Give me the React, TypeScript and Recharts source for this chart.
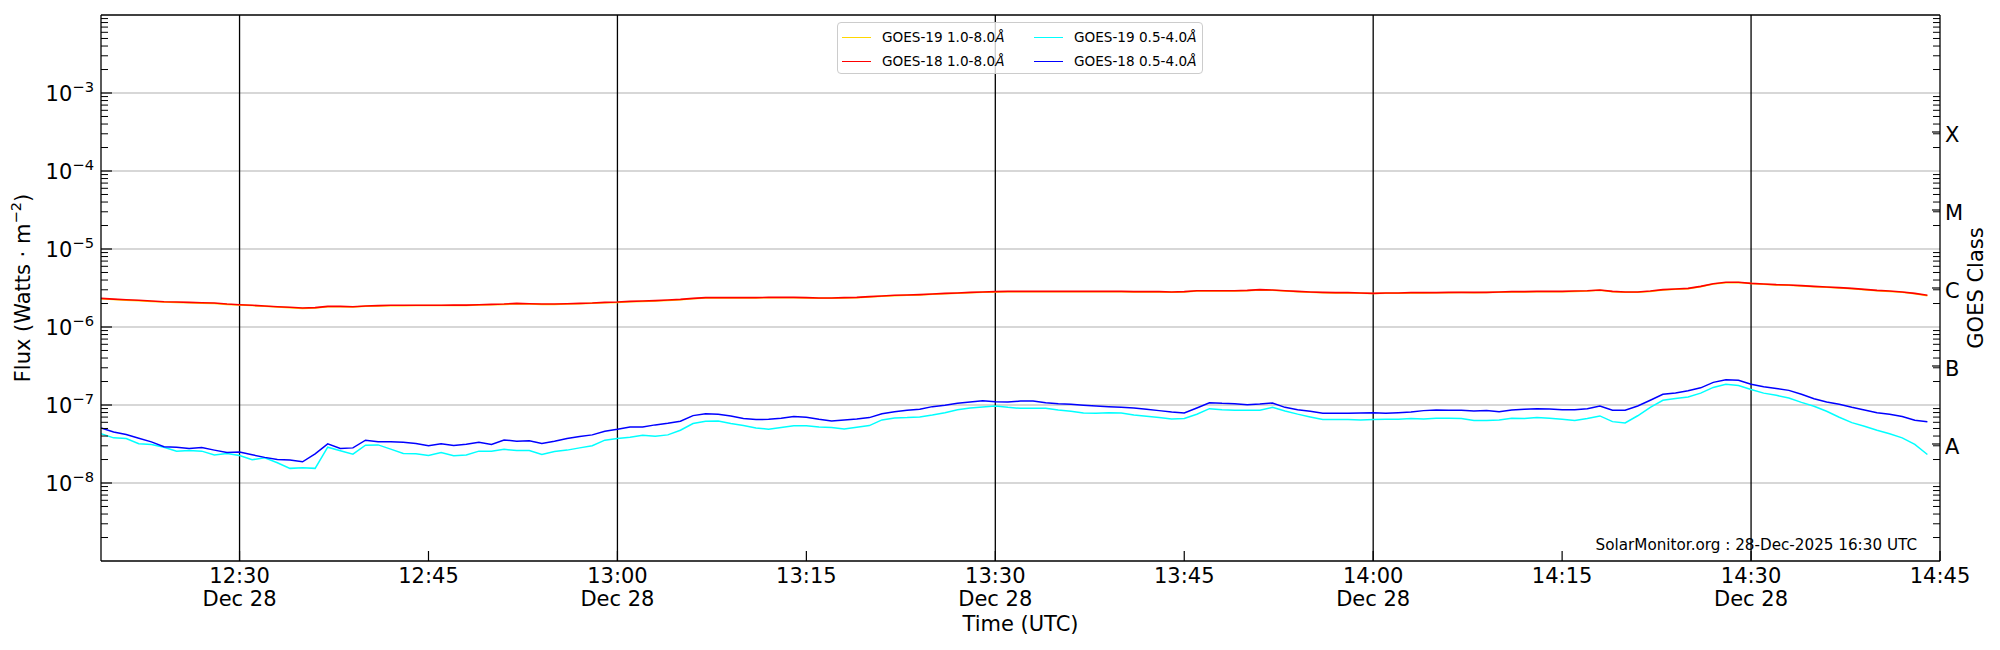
import React from 'react';
import { ComposedChart, Line, XAxis, YAxis, ReferenceLine, Legend } from 'recharts';

// ---------------- data ----------------
const startMinute = 19; // 12:19 UTC, minutes after 12:00
const cadenceMinutes = 1;

const seriesKeys = ['g19long', 'g18long', 'g19short', 'g18short'];
const seriesNames = ['GOES-19 1.0-8.0Å', 'GOES-18 1.0-8.0Å', 'GOES-19 0.5-4.0Å', 'GOES-18 0.5-4.0Å'];
const seriesColors = ['#ffd700', '#ff0000', '#00ffff', '#0000ff'];

const goes19Long = [
  2.30e-6, 2.25e-6, 2.21e-6, 2.17e-6, 2.13e-6, 2.09e-6, 2.06e-6, 2.04e-6, 2.02e-6, 2.00e-6,
  1.95e-6, 1.91e-6, 1.88e-6, 1.84e-6, 1.80e-6, 1.77e-6, 1.73e-6, 1.75e-6, 1.82e-6, 1.82e-6,
  1.80e-6, 1.84e-6, 1.86e-6, 1.87e-6, 1.87e-6, 1.88e-6, 1.88e-6, 1.88e-6, 1.89e-6, 1.89e-6,
  1.91e-6, 1.93e-6, 1.95e-6, 1.98e-6, 1.97e-6, 1.95e-6, 1.95e-6, 1.97e-6, 1.99e-6, 2.01e-6,
  2.04e-6, 2.06e-6, 2.10e-6, 2.13e-6, 2.16e-6, 2.19e-6, 2.23e-6, 2.30e-6, 2.35e-6, 2.36e-6,
  2.35e-6, 2.36e-6, 2.36e-6, 2.37e-6, 2.38e-6, 2.37e-6, 2.36e-6, 2.33e-6, 2.33e-6, 2.35e-6,
  2.37e-6, 2.42e-6, 2.47e-6, 2.52e-6, 2.55e-6, 2.57e-6, 2.62e-6, 2.67e-6, 2.70e-6, 2.75e-6,
  2.78e-6, 2.81e-6, 2.83e-6, 2.83e-6, 2.84e-6, 2.83e-6, 2.83e-6, 2.84e-6, 2.83e-6, 2.83e-6,
  2.83e-6, 2.84e-6, 2.81e-6, 2.82e-6, 2.81e-6, 2.79e-6, 2.81e-6, 2.89e-6, 2.89e-6, 2.90e-6,
  2.89e-6, 2.92e-6, 2.98e-6, 2.95e-6, 2.89e-6, 2.84e-6, 2.78e-6, 2.75e-6, 2.73e-6, 2.74e-6,
  2.70e-6, 2.68e-6, 2.70e-6, 2.71e-6, 2.73e-6, 2.73e-6, 2.74e-6, 2.75e-6, 2.76e-6, 2.75e-6,
  2.76e-6, 2.78e-6, 2.81e-6, 2.82e-6, 2.83e-6, 2.84e-6, 2.83e-6, 2.86e-6, 2.89e-6, 2.95e-6,
  2.83e-6, 2.78e-6, 2.79e-6, 2.86e-6, 2.98e-6, 3.04e-6, 3.10e-6, 3.29e-6, 3.55e-6, 3.70e-6,
  3.71e-6, 3.60e-6, 3.52e-6, 3.46e-6, 3.43e-6, 3.36e-6, 3.29e-6, 3.23e-6, 3.17e-6, 3.10e-6,
  3.01e-6, 2.92e-6, 2.86e-6, 2.78e-6, 2.67e-6, 2.52e-6,
];

const goes18Long = [
  2.33e-6, 2.28e-6, 2.24e-6, 2.20e-6, 2.15e-6, 2.11e-6, 2.09e-6, 2.07e-6, 2.05e-6, 2.03e-6,
  1.97e-6, 1.93e-6, 1.90e-6, 1.86e-6, 1.82e-6, 1.79e-6, 1.75e-6, 1.77e-6, 1.84e-6, 1.84e-6,
  1.82e-6, 1.86e-6, 1.88e-6, 1.90e-6, 1.90e-6, 1.90e-6, 1.90e-6, 1.90e-6, 1.91e-6, 1.91e-6,
  1.93e-6, 1.95e-6, 1.97e-6, 2.01e-6, 1.99e-6, 1.97e-6, 1.97e-6, 1.99e-6, 2.01e-6, 2.03e-6,
  2.07e-6, 2.09e-6, 2.13e-6, 2.15e-6, 2.18e-6, 2.22e-6, 2.26e-6, 2.33e-6, 2.38e-6, 2.38e-6,
  2.38e-6, 2.38e-6, 2.38e-6, 2.40e-6, 2.40e-6, 2.40e-6, 2.38e-6, 2.35e-6, 2.35e-6, 2.38e-6,
  2.40e-6, 2.45e-6, 2.50e-6, 2.55e-6, 2.57e-6, 2.60e-6, 2.65e-6, 2.70e-6, 2.73e-6, 2.78e-6,
  2.81e-6, 2.84e-6, 2.86e-6, 2.86e-6, 2.86e-6, 2.86e-6, 2.86e-6, 2.86e-6, 2.86e-6, 2.86e-6,
  2.86e-6, 2.86e-6, 2.84e-6, 2.84e-6, 2.84e-6, 2.81e-6, 2.84e-6, 2.92e-6, 2.92e-6, 2.92e-6,
  2.92e-6, 2.95e-6, 3.01e-6, 2.98e-6, 2.92e-6, 2.86e-6, 2.81e-6, 2.78e-6, 2.76e-6, 2.76e-6,
  2.73e-6, 2.70e-6, 2.73e-6, 2.73e-6, 2.76e-6, 2.76e-6, 2.76e-6, 2.78e-6, 2.78e-6, 2.78e-6,
  2.78e-6, 2.81e-6, 2.84e-6, 2.84e-6, 2.86e-6, 2.86e-6, 2.86e-6, 2.89e-6, 2.92e-6, 2.98e-6,
  2.86e-6, 2.81e-6, 2.81e-6, 2.89e-6, 3.01e-6, 3.07e-6, 3.13e-6, 3.32e-6, 3.59e-6, 3.74e-6,
  3.74e-6, 3.63e-6, 3.56e-6, 3.49e-6, 3.46e-6, 3.39e-6, 3.32e-6, 3.26e-6, 3.20e-6, 3.13e-6,
  3.04e-6, 2.95e-6, 2.89e-6, 2.81e-6, 2.70e-6, 2.55e-6,
];

const goes19Short = [
  4.27e-8, 3.79e-8, 3.72e-8, 3.18e-8, 3.12e-8, 2.88e-8, 2.56e-8, 2.61e-8, 2.56e-8, 2.28e-8,
  2.39e-8, 2.25e-8, 1.99e-8, 2.10e-8, 1.82e-8, 1.54e-8, 1.57e-8, 1.54e-8, 2.88e-8, 2.59e-8,
  2.34e-8, 3.05e-8, 3.08e-8, 2.72e-8, 2.39e-8, 2.37e-8, 2.25e-8, 2.46e-8, 2.23e-8, 2.28e-8,
  2.56e-8, 2.56e-8, 2.70e-8, 2.61e-8, 2.61e-8, 2.32e-8, 2.54e-8, 2.64e-8, 2.82e-8, 3.00e-8,
  3.54e-8, 3.72e-8, 3.86e-8, 4.10e-8, 3.98e-8, 4.14e-8, 4.75e-8, 5.78e-8, 6.18e-8, 6.25e-8,
  5.78e-8, 5.45e-8, 5.08e-8, 4.89e-8, 5.14e-8, 5.40e-8, 5.40e-8, 5.24e-8, 5.14e-8, 4.94e-8,
  5.19e-8, 5.45e-8, 6.44e-8, 6.82e-8, 6.89e-8, 7.03e-8, 7.45e-8, 7.98e-8, 8.71e-8, 9.16e-8,
  9.42e-8, 9.70e-8, 9.33e-8, 9.06e-8, 9.06e-8, 9.06e-8, 8.63e-8, 8.30e-8, 7.91e-8, 7.83e-8,
  7.98e-8, 7.91e-8, 7.45e-8, 7.16e-8, 6.89e-8, 6.62e-8, 6.70e-8, 7.60e-8, 8.97e-8, 8.71e-8,
  8.55e-8, 8.55e-8, 8.55e-8, 9.33e-8, 8.38e-8, 7.64e-8, 7.03e-8, 6.50e-8, 6.50e-8, 6.50e-8,
  6.44e-8, 6.50e-8, 6.56e-8, 6.56e-8, 6.70e-8, 6.62e-8, 6.76e-8, 6.76e-8, 6.70e-8, 6.31e-8,
  6.31e-8, 6.44e-8, 6.76e-8, 6.70e-8, 6.89e-8, 6.76e-8, 6.56e-8, 6.31e-8, 6.70e-8, 7.24e-8,
  6.12e-8, 5.89e-8, 7.28e-8, 9.33e-8, 1.15e-7, 1.21e-7, 1.27e-7, 1.42e-7, 1.68e-7, 1.84e-7,
  1.78e-7, 1.58e-7, 1.42e-7, 1.33e-7, 1.23e-7, 1.08e-7, 9.62e-8, 8.30e-8, 6.97e-8, 5.94e-8,
  5.35e-8, 4.75e-8, 4.27e-8, 3.79e-8, 3.12e-8, 2.32e-8,
];

const goes18Short = [
  5.08e-8, 4.52e-8, 4.18e-8, 3.75e-8, 3.37e-8, 2.91e-8, 2.88e-8, 2.77e-8, 2.85e-8, 2.64e-8,
  2.46e-8, 2.49e-8, 2.30e-8, 2.13e-8, 2.00e-8, 1.97e-8, 1.87e-8, 2.37e-8, 3.18e-8, 2.77e-8,
  2.82e-8, 3.54e-8, 3.37e-8, 3.37e-8, 3.33e-8, 3.21e-8, 3.00e-8, 3.18e-8, 3.03e-8, 3.15e-8,
  3.33e-8, 3.12e-8, 3.56e-8, 3.44e-8, 3.47e-8, 3.21e-8, 3.44e-8, 3.72e-8, 3.94e-8, 4.14e-8,
  4.61e-8, 4.89e-8, 5.24e-8, 5.24e-8, 5.56e-8, 5.83e-8, 6.18e-8, 7.31e-8, 7.74e-8, 7.60e-8,
  7.24e-8, 6.70e-8, 6.50e-8, 6.56e-8, 6.76e-8, 7.10e-8, 6.97e-8, 6.56e-8, 6.25e-8, 6.44e-8,
  6.62e-8, 6.89e-8, 7.74e-8, 8.22e-8, 8.55e-8, 8.81e-8, 9.53e-8, 9.91e-8, 1.05e-7, 1.09e-7,
  1.135e-7, 1.104e-7, 1.09e-7, 1.125e-7, 1.125e-7, 1.07e-7, 1.04e-7, 1.02e-7, 9.91e-8, 9.70e-8,
  9.53e-8, 9.33e-8, 9.16e-8, 8.81e-8, 8.47e-8, 8.15e-8, 7.91e-8, 9.16e-8, 1.07e-7, 1.05e-7,
  1.04e-7, 1.01e-7, 1.03e-7, 1.06e-7, 9.33e-8, 8.71e-8, 8.30e-8, 7.83e-8, 7.83e-8, 7.83e-8,
  7.91e-8, 7.98e-8, 7.83e-8, 7.98e-8, 8.15e-8, 8.47e-8, 8.63e-8, 8.55e-8, 8.55e-8, 8.38e-8,
  8.47e-8, 8.22e-8, 8.63e-8, 8.81e-8, 8.97e-8, 8.89e-8, 8.71e-8, 8.71e-8, 8.97e-8, 9.70e-8,
  8.55e-8, 8.55e-8, 9.70e-8, 1.15e-7, 1.37e-7, 1.43e-7, 1.52e-7, 1.66e-7, 1.95e-7, 2.10e-7,
  2.07e-7, 1.85e-7, 1.71e-7, 1.63e-7, 1.54e-7, 1.37e-7, 1.205e-7, 1.09e-7, 1.02e-7, 9.33e-8,
  8.63e-8, 7.98e-8, 7.60e-8, 7.10e-8, 6.37e-8, 6.12e-8,
];

// axes
const xDomain = [19, 165]; // 12:19 .. 14:45
const xTicks = [30, 45, 60, 75, 90, 105, 120, 135, 150, 165];
const xTickLabels = ['12:30', '12:45', '13:00', '13:15', '13:30', '13:45', '14:00', '14:15', '14:30', '14:45'];
const dateTickValues = [30, 60, 90, 120, 150];
const dateLabel = 'Dec 28';
const verticalLineTimes = [30, 60, 90, 120, 150];

const yDomain = [1e-9, 1e-2];
const decadeValues = [1e-8, 1e-7, 1e-6, 1e-5, 1e-4, 1e-3];
const decadeLabels = ['−8', '−7', '−6', '−5', '−4', '−3'];
const minorDecades = [1e-9, 1e-8, 1e-7, 1e-6, 1e-5, 1e-4, 1e-3];
const minorMultipliers = [2, 3, 4, 5, 6, 7, 8, 9];
const classValues = [3.1623e-8, 3.1623e-7, 3.1623e-6, 3.1623e-5, 3.1623e-4];
const classLabels = ['A', 'B', 'C', 'M', 'X'];

const creditText = 'SolarMonitor.org : 28-Dec-2025 16:30 UTC';
const xAxisTitle = 'Time (UTC)';
const rightAxisTitle = 'GOES Class';

// ---------------- table ----------------
const seriesValues = [goes19Long, goes18Long, goes19Short, goes18Short];
const data = goes18Long.map((_, i) => {
  const row: Record<string, number> = { t: startMinute + i * cadenceMinutes };
  seriesKeys.forEach((k, s) => {
    row[k] = seriesValues[s][i];
  });
  return row;
});

const minorValues: number[] = [];
minorDecades.forEach((d) => minorMultipliers.forEach((m) => minorValues.push(m * d)));

// ---------------- layout / style ----------------
const FONT = "'DejaVu Sans', 'Liberation Sans', sans-serif";
const W = 2000;
const H = 650;
const LEFT_W = 101;
const RIGHT_W = 60;
const TOP = 15;
const XAXIS_H = 89;
const TICK_FS = 21;

const LeftTick = (props: any) => {
  const { x, y, payload } = props;
  const v = payload.value;
  const idx = decadeValues.indexOf(v);
  if (idx < 0) {
    return <line x1={x} x2={x + 7} y1={y} y2={y} stroke="#000" strokeWidth={1} />;
  }
  return (
    <g>
      <line x1={x} x2={x + 11} y1={y} y2={y} stroke="#000" strokeWidth={1.2} />
      <text x={x - 7} y={y + 8} textAnchor="end" fontFamily={FONT} fontSize={TICK_FS} fill="#000">
        10
        <tspan dy={-9} fontSize={14.7}>
          {decadeLabels[idx]}
        </tspan>
      </text>
    </g>
  );
};

const RightTick = (props: any) => {
  const { x, y, payload } = props;
  const v = payload.value;
  const idx = classValues.indexOf(v);
  if (idx < 0) {
    return <line x1={x} x2={x - 7} y1={y} y2={y} stroke="#000" strokeWidth={1} />;
  }
  return (
    <g>
      <line x1={x} x2={x - 8} y1={y} y2={y} stroke="#000" strokeWidth={1.2} />
      <text x={x + 5} y={y + 10} textAnchor="start" fontFamily={FONT} fontSize={TICK_FS} fill="#000">
        {classLabels[idx]}
      </text>
    </g>
  );
};

const TimeTick = (props: any) => {
  const { x, y, payload } = props;
  const v = payload.value;
  const idx = xTicks.indexOf(v);
  return (
    <g>
      <line x1={x} x2={x} y1={y} y2={y - 10} stroke="#000" strokeWidth={1.2} />
      <text x={x} y={y + 22} textAnchor="middle" fontFamily={FONT} fontSize={TICK_FS} fill="#000">
        {xTickLabels[idx]}
      </text>
      {dateTickValues.includes(v) && (
        <text x={x} y={y + 45} textAnchor="middle" fontFamily={FONT} fontSize={TICK_FS} fill="#000">
          {dateLabel}
        </text>
      )}
    </g>
  );
};

const FluxLabel = (props: any) => {
  const vb = props.viewBox || {};
  const cy = (vb.y ?? TOP) + (vb.height ?? H - TOP - XAXIS_H) / 2;
  const cx = 23;
  return (
    <text
      x={cx}
      y={cy}
      transform={`rotate(-90 ${cx} ${cy})`}
      textAnchor="middle"
      dominantBaseline="central"
      fontFamily={FONT}
      fontSize={TICK_FS}
      fill="#000"
    >
      Flux (Watts · m
      <tspan dy={-8} fontSize={14.7}>
        −2
      </tspan>
      <tspan dy={8}>)</tspan>
    </text>
  );
};

const ClassTitle = (props: any) => {
  const vb = props.viewBox || {};
  const cy = (vb.y ?? TOP) + (vb.height ?? H - TOP - XAXIS_H) / 2;
  const cx = W - 24;
  return (
    <text
      x={cx}
      y={cy}
      transform={`rotate(-90 ${cx} ${cy})`}
      textAnchor="middle"
      dominantBaseline="central"
      fontFamily={FONT}
      fontSize={TICK_FS}
      fill="#000"
    >
      {rightAxisTitle}
    </text>
  );
};

const TimeTitle = (props: any) => {
  const vb = props.viewBox || {};
  const cx = (vb.x ?? LEFT_W) + (vb.width ?? W - LEFT_W - RIGHT_W) / 2;
  return (
    <text x={cx} y={H - 19} textAnchor="middle" fontFamily={FONT} fontSize={TICK_FS} fill="#000">
      {xAxisTitle}
    </text>
  );
};

const renderName = (name: string) => {
  const last = name.slice(-1);
  return (
    <>
      {name.slice(0, -1)}
      <span style={{ fontStyle: 'italic' }}>{last}</span>
    </>
  );
};

const LegendBox = (props: any) => {
  const payload = props.payload && props.payload.length ? props.payload : [];
  const items = seriesNames.map((n, i) => {
    const p = payload.find((q: any) => q.value === n);
    return { name: n, color: p ? p.color : seriesColors[i] };
  });
  return (
    <div
      style={{
        boxSizing: 'border-box',
        width: 366,
        height: 52,
        border: '1px solid #cccccc',
        borderRadius: 4,
        background: 'rgba(255,255,255,0.8)',
        padding: '2px 0 0 4px',
        display: 'grid',
        gridTemplateColumns: '192px 168px',
        gridTemplateRows: '24px 24px',
        gridAutoFlow: 'column',
        fontFamily: FONT,
        fontSize: 13.6,
        color: '#000',
        textAlign: 'left',
        lineHeight: '24px',
      }}
    >
      {items.map((it) => (
        <div key={it.name} style={{ display: 'flex', alignItems: 'center', whiteSpace: 'nowrap' }}>
          <span
            style={{
              display: 'inline-block',
              width: 29,
              height: 0,
              borderTop: `1.5px solid ${it.color}`,
              marginRight: 11,
            }}
          />
          <span>{renderName(it.name)}</span>
        </div>
      ))}
    </div>
  );
};

export default function App() {
  return (
    <div style={{ position: 'absolute', left: 0, top: 0, width: W, height: H, background: '#fff' }}>
      <ComposedChart width={W} height={H} data={data} margin={{ top: TOP, right: 0, bottom: 0, left: 0 }}>
        <XAxis
          dataKey="t"
          type="number"
          domain={xDomain}
          allowDataOverflow
          ticks={xTicks}
          interval={0}
          tickSize={0}
          tickMargin={0}
          tickLine={false}
          tick={<TimeTick />}
          height={XAXIS_H}
          axisLine={{ stroke: '#000', strokeWidth: 1.3 }}
          label={<TimeTitle />}
        />
        <YAxis
          yAxisId="left"
          orientation="left"
          type="number"
          scale="log"
          domain={yDomain}
          allowDataOverflow
          ticks={[...decadeValues, ...minorValues]}
          interval={0}
          tickSize={0}
          tickMargin={0}
          tickLine={false}
          tick={<LeftTick />}
          width={LEFT_W}
          axisLine={{ stroke: '#000', strokeWidth: 1.3 }}
          label={<FluxLabel />}
        />
        <YAxis
          yAxisId="right"
          orientation="right"
          type="number"
          scale="log"
          domain={yDomain}
          allowDataOverflow
          ticks={[...minorValues, ...classValues]}
          interval={0}
          tickSize={0}
          tickMargin={0}
          tickLine={false}
          tick={<RightTick />}
          width={RIGHT_W}
          axisLine={{ stroke: '#000', strokeWidth: 1.3 }}
          label={<ClassTitle />}
        />
        {decadeValues.map((v) => (
          <ReferenceLine key={`g${v}`} yAxisId="left" y={v} stroke="#b0b0b0" strokeWidth={1.1} />
        ))}
        <ReferenceLine yAxisId="left" y={yDomain[1]} stroke="#000" strokeWidth={1.3} />
        {verticalLineTimes.map((t) => (
          <ReferenceLine key={`v${t}`} yAxisId="left" x={t} stroke="#000" strokeWidth={1.3} />
        ))}
        <Line yAxisId="left" dataKey={seriesKeys[0]} name={seriesNames[0]} stroke={seriesColors[0]} strokeWidth={1.5} dot={false} activeDot={false} type="linear" isAnimationActive={false} />
        <Line yAxisId="left" dataKey={seriesKeys[1]} name={seriesNames[1]} stroke={seriesColors[1]} strokeWidth={1.6} dot={false} activeDot={false} type="linear" isAnimationActive={false} />
        <Line yAxisId="right" dataKey={seriesKeys[2]} name={seriesNames[2]} stroke={seriesColors[2]} strokeWidth={1.5} dot={false} activeDot={false} type="linear" isAnimationActive={false} />
        <Line yAxisId="right" dataKey={seriesKeys[3]} name={seriesNames[3]} stroke={seriesColors[3]} strokeWidth={1.5} dot={false} activeDot={false} type="linear" isAnimationActive={false} />
        <Legend
          layout="horizontal"
          verticalAlign="middle"
          align="center"
          content={<LegendBox />}
          wrapperStyle={{ left: 837, top: 22, width: 366, height: 52, right: 'auto', bottom: 'auto' }}
        />
        <text x={1917} y={550} textAnchor="end" fontFamily={FONT} fontSize={15.2} fill="#000">
          {creditText}
        </text>
      </ComposedChart>
    </div>
  );
}
